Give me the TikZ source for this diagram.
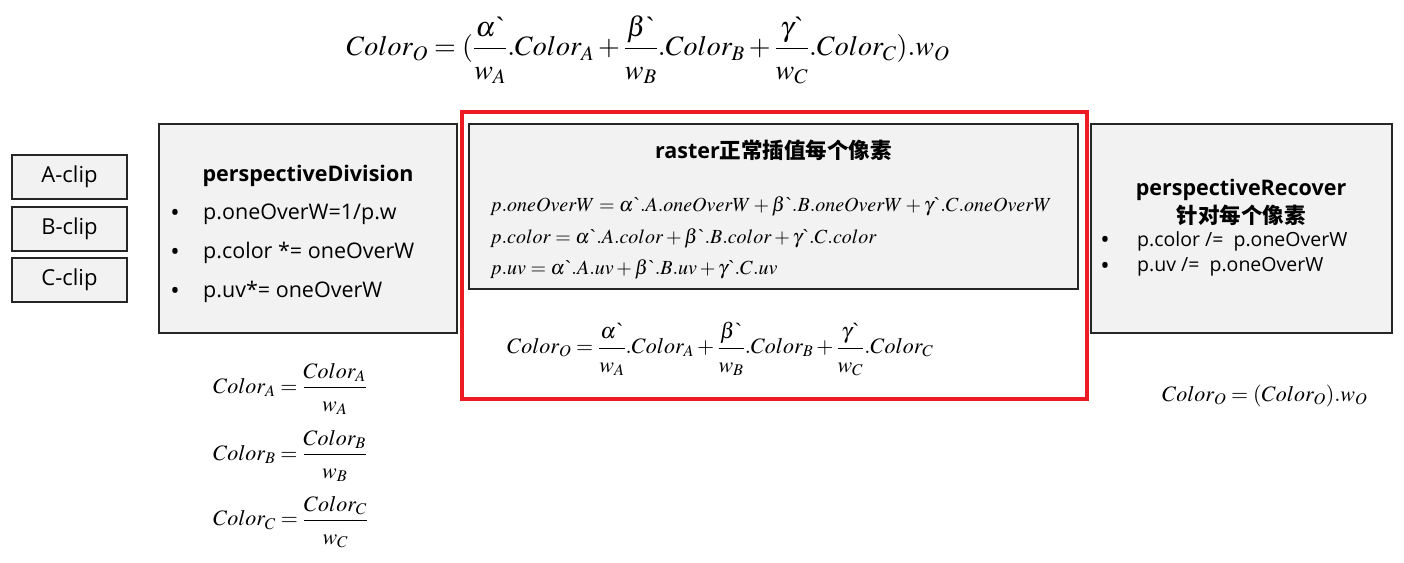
\documentclass[tikz,border=0pt]{standalone}
\usepackage{mathptmx}
\usepackage{fontspec}
\setmainfont{Open Sans}
\newfontfamily\cjk{Noto Sans CJK SC}
\newfontfamily\tms{Liberation Serif}
\newcommand{\gq}{\mbox{\tms\textasciigrave}}
\newcommand{\ff}[2]{\frac{#1\rule[-0.2em]{0pt}{0pt}}{\rule{0pt}{0.95em}#2}}
\definecolor{boxfill}{HTML}{F2F2F2}
\definecolor{boxline}{HTML}{262626}
\definecolor{redline}{HTML}{ED1C24}
\tikzset{
  graybox/.style={draw=boxline, line width=1.4pt, fill=boxfill, inner sep=0pt},
  clipbox/.style={graybox, minimum width=115pt, minimum height=44pt, font=\fontsize{22}{26}\selectfont},
  redframe/.style={draw=redline, line width=3.5pt, inner sep=0pt},
  ttl/.style={font=\fontsize{21.5}{25}\selectfont\bfseries, inner sep=0pt},
  itm/.style={font=\fontsize{21.5}{25}\selectfont, inner sep=0pt, anchor=west},
  itms/.style={font=\fontsize{19.5}{23}\selectfont, inner sep=0pt, anchor=west},
  bul/.style={font=\fontsize{25}{28}\selectfont, inner sep=0pt},
  bigmath/.style={font=\fontsize{28}{33}\selectfont, inner sep=0pt},
  midmath/.style={font=\fontsize{20}{24}\selectfont, inner sep=0pt, anchor=west},
  fmath/.style={font=\fontsize{22}{26}\selectfont, inner sep=0pt, anchor=west},
  smath/.style={font=\fontsize{22}{26}\selectfont, inner sep=0pt, anchor=west}
}
\begin{document}
\begin{tikzpicture}[x=1pt,y=-1pt]
\useasboundingbox (0,0) rectangle (1404,562);
% top formula
\node[bigmath] (top) at (648,50) {$\displaystyle Color_O=(\ff{\alpha\gq}{w_A}.Color_A+\ff{\beta\gq}{w_B}.Color_B+\ff{\gamma\gq}{w_C}.Color_C).w_O$};
% clip boxes
\node[clipbox] (A) at (69.5,177) {A-clip};
\node[clipbox] (B) at (69.5,229) {B-clip};
\node[clipbox] (C) at (69.5,280) {C-clip};
% perspective division
\node[graybox, minimum width=298pt, minimum height=209pt] (pd) at (308,228.5) {};
\node[ttl] (pdt) at (308,176) {perspectiveDivision};
\node[bul] (pb1) at (175,215) {\textbullet};
\node[bul] (pb2) at (175,254) {\textbullet};
\node[bul] (pb3) at (175,293) {\textbullet};
\node[itm] (pi1) at (203,214) {p.oneOverW=1/p.w};
\node[itm] (pi2) at (203,253) {p.color *= oneOverW};
\node[itm] (pi3) at (203,292) {p.uv*= oneOverW};
% raster
\node[redframe, minimum width=625pt, minimum height=287pt] (red) at (774.5,255.5) {};
\node[graybox, minimum width=609pt, minimum height=165pt] (ras) at (773.5,206.5) {};
\node[ttl] (rt) at (773.5,150) {raster{\cjk 正常插值每个像素}};
\node[midmath] (r1) at (490,206) {$p.oneOverW=\alpha\gq.A.oneOverW+\beta\gq.B.oneOverW+\gamma\gq.C.oneOverW$};
\node[midmath] (r2) at (490,238) {$p.color=\alpha\gq.A.color+\beta\gq.B.color+\gamma\gq.C.color$};
\node[midmath] (r3) at (490,269) {$p.uv=\alpha\gq.A.uv+\beta\gq.B.uv+\gamma\gq.C.uv$};
\node[fmath] (rm) at (507,349) {$\displaystyle Color_O=\ff{\alpha\gq}{w_A}.Color_A+\ff{\beta\gq}{w_B}.Color_B+\ff{\gamma\gq}{w_C}.Color_C$};
% perspective recover
\node[graybox, minimum width=301pt, minimum height=209pt] (pr) at (1241.5,228.5) {};
\node[ttl] (prt) at (1241,190) {perspectiveRecover};
\node[ttl] (prt2) at (1241,215) {\cjk 针对每个像素};
\node[bul] (rb1) at (1105,242) {\textbullet};
\node[bul] (rb2) at (1105,268) {\textbullet};
\node[itms] (ri1) at (1137,241) {p.color /= \ p.oneOverW};
\node[itms] (ri2) at (1137,267) {p.uv /= \ p.oneOverW};
% bottom formulas
\node[smath] (fa) at (213,389) {$\displaystyle Color_A=\ff{Color_A}{w_A}$};
\node[smath] (fb) at (213,456) {$\displaystyle Color_B=\ff{Color_B}{w_B}$};
\node[smath] (fc) at (213,522) {$\displaystyle Color_C=\ff{Color_C}{w_C}$};
\node[smath] (fo) at (1162,396) {$Color_O=(Color_O).w_O$};
\end{tikzpicture}
\end{document}
